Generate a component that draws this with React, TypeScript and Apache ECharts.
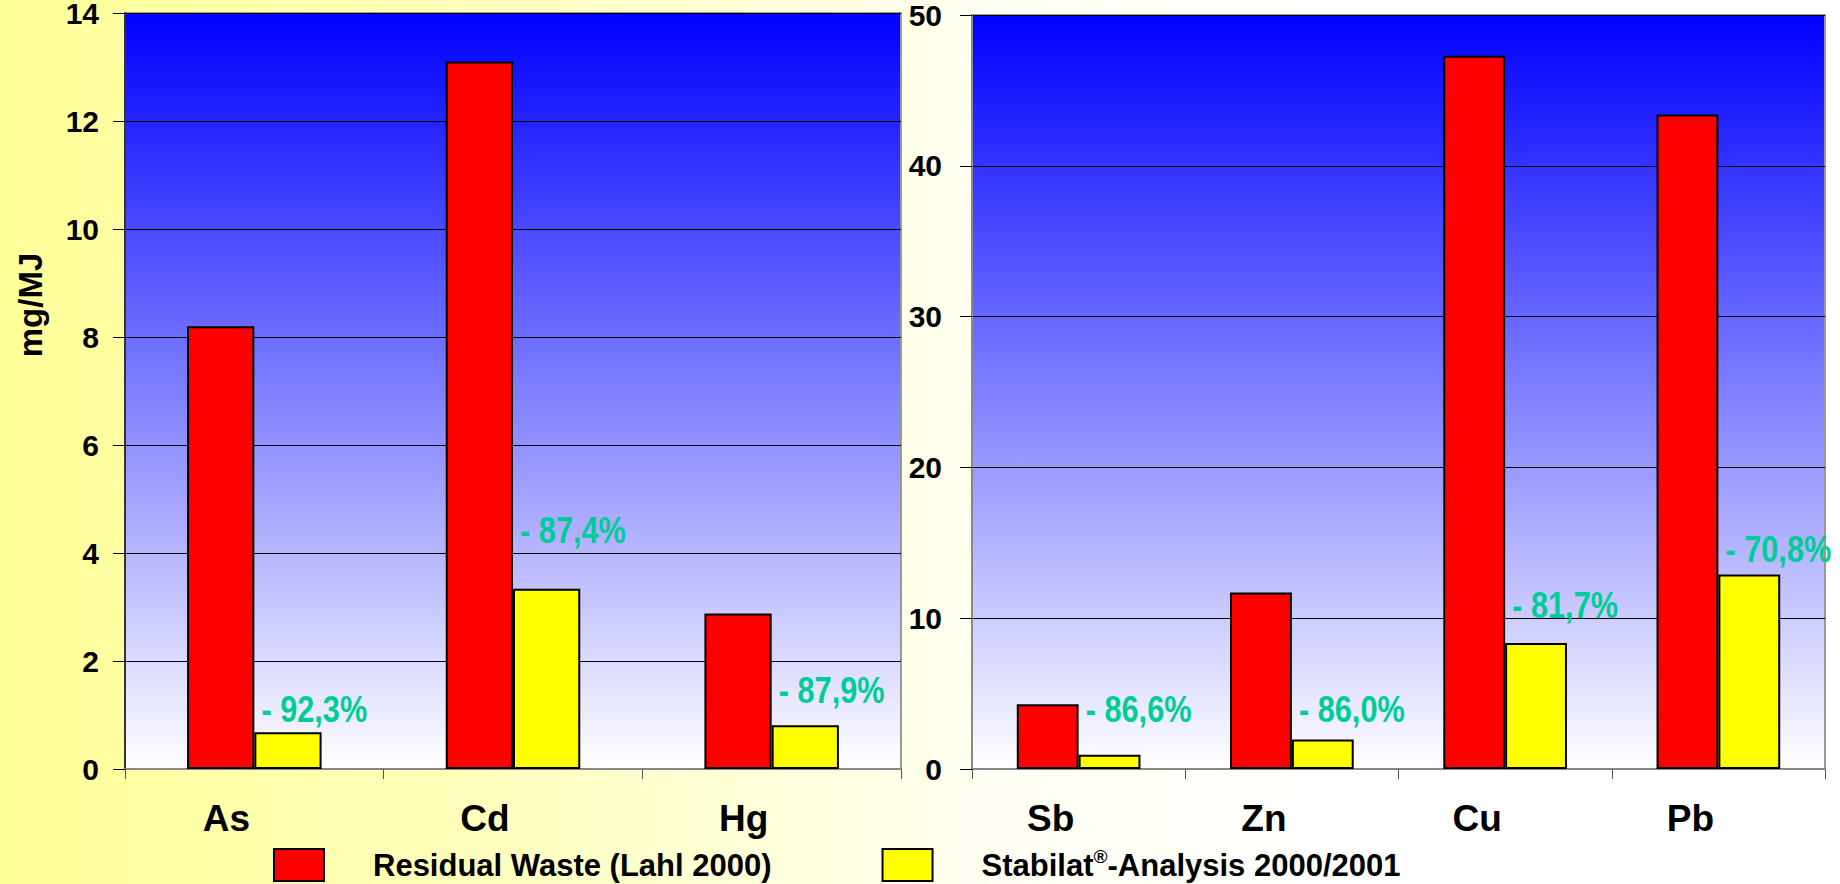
import React, { useEffect, useRef } from "react";
import * as echarts from "echarts";

const categoriesLeft = ["As", "Cd", "Hg"];
const residualLeft = [8.2, 13.1, 2.88];
const stabilatLeft = [0.68, 3.34, 0.81];
const reductionLeft = ["- 92,3%", "- 87,4%", "- 87,9%"];
const reductionLeftAt = [1.11, 4.43, 1.46];

const categoriesRight = ["Sb", "Zn", "Cu", "Pb"];
const residualRight = [4.3, 11.7, 47.3, 43.4];
const stabilatRight = [0.94, 1.95, 8.35, 12.9];
const reductionRight = ["- 86,6%", "- 86,0%", "- 81,7%", "- 70,8%"];
const reductionRightAt = [3.98, 3.98, 10.9, 14.6];

const leftAxis = { min: 0, max: 14, interval: 2 };
const rightAxis = { min: 0, max: 50, interval: 10 };

const seriesNames = ["Residual Waste (Lahl 2000)", "Stabilat®-Analysis 2000/2001"];
const axisTitle = "mg/MJ";

const FONT = "'Liberation Sans', Arial, sans-serif";

export default function App() {
  const ref = useRef<HTMLDivElement>(null);
  useEffect(() => {
    if (!ref.current) return;
    const chart = echarts.init(ref.current, null, { renderer: "svg" });
    const plotBg = new echarts.graphic.LinearGradient(0, 0, 0, 1, [
      { offset: 0, color: "#0000FF" },
      { offset: 1, color: "#FFFFFF" },
    ]);
    const pageBg = new echarts.graphic.LinearGradient(0, 0, 1, 0, [
      { offset: 0, color: "#FFFF99" },
      { offset: 0.25, color: "#FFFFBB" },
      { offset: 0.55, color: "#FFFFF4" },
      { offset: 0.75, color: "#FFFFFF" },
      { offset: 1, color: "#FFFFFF" },
    ]);
    const catAxis = (data: string[], idx: number) => ({
      type: "category",
      gridIndex: idx,
      data,
      axisLine: { show: true, lineStyle: { color: "#888888", width: 2 } },
      axisTick: { show: true, length: 10, lineStyle: { color: "#555555", width: 1 } },
      axisLabel: {
        margin: 31,
        fontSize: 37,
        fontWeight: "bold",
        fontFamily: FONT,
        color: "#000",
        padding: [0, 56, 0, 0],
        interval: 0,
      },
      splitLine: { show: false },
    });
    const valAxis = (cfg: any, idx: number, margin: number, lineColor: string) => ({
      type: "value",
      gridIndex: idx,
      min: cfg.min,
      max: cfg.max,
      interval: cfg.interval,
      axisLine: { show: true, lineStyle: { color: lineColor, width: 2 } },
      axisTick: { show: true, length: 12, lineStyle: { color: "#000", width: 1 } },
      axisLabel: {
        margin,
        fontSize: 30,
        lineHeight: 24,
        fontWeight: "bold",
        fontFamily: FONT,
        color: "#000",
      },
      splitLine: { show: true, lineStyle: { color: "#000", width: 1 } },
    });
    const barStyle = (color: string) => ({ color, borderColor: "#000", borderWidth: 2 });
    const labelSeries = (idx: number, at: number[], texts: string[]) => ({
      type: "custom",
      name: "reduction" + idx,
      xAxisIndex: idx,
      yAxisIndex: idx,
      silent: true,
      encode: { x: 0, y: 1 },
      data: at.map((v, i) => [i, v]),
      renderItem: (params: any, api: any) => {
        const p = api.coord([api.value(0), api.value(1)]);
        return {
          type: "text",
          x: p[0] + 60,
          y: p[1],
          scaleX: 0.83,
          style: {
            text: texts[params.dataIndex],
            fill: "#00CC99",
            font: "bold 37px 'Liberation Sans', Arial, sans-serif",
            align: "center",
            verticalAlign: "middle",
            textAlign: "center",
            textVerticalAlign: "middle",
          },
        };
      },
      z: 10,
    });
    chart.setOption({
      animation: false,
      backgroundColor: pageBg,
      grid: [
        {
          left: 125, top: 13, width: 776, height: 756,
          show: true, backgroundColor: plotBg, borderColor: "#999999", borderWidth: 2,
          containLabel: false, outerBoundsMode: "none",
        },
        {
          left: 972, top: 15, width: 853, height: 754,
          show: true, backgroundColor: plotBg, borderColor: "#999999", borderWidth: 2,
          containLabel: false, outerBoundsMode: "none",
        },
      ],
      xAxis: [catAxis(categoriesLeft, 0), catAxis(categoriesRight, 1)],
      yAxis: [
        {
          ...valAxis(leftAxis, 0, 26, "#333333"),
          name: axisTitle,
          nameLocation: "middle",
          nameRotate: 90,
          nameGap: 78,
          nameTextStyle: {
            fontSize: 33,
            fontWeight: "bold",
            fontFamily: FONT,
            color: "#000",
            padding: [0, 0, 0, 172],
          },
        },
        valAxis(rightAxis, 1, 30, "#888888"),
      ],
      legend: {
        data: seriesNames,
        left: 268,
        top: 842,
        itemWidth: 50,
        itemHeight: 32,
        itemGap: 110,
        icon: "rect",
        itemStyle: { borderColor: "#000", borderWidth: 2 },
        selectedMode: false,
        formatter: (name: string) =>
          name.indexOf("®") >= 0
            ? "{t|" + name.split("®")[0] + "}{sup|®}{t|" + name.split("®")[1] + "}"
            : "{t|" + name + "}",
        textStyle: {
          padding: [0, 0, 0, 44],
          rich: {
            t: { fontSize: 31, fontWeight: "bold", fontFamily: FONT, color: "#000", lineHeight: 36 },
            sup: { fontSize: 19, fontWeight: "bold", fontFamily: FONT, color: "#000", verticalAlign: "top", lineHeight: 36 },
          },
        },
      },
      series: [
        { type: "bar", name: seriesNames[0], xAxisIndex: 0, yAxisIndex: 0, data: residualLeft, barWidth: "26%", barGap: "0%", itemStyle: barStyle("#FF0000") },
        { type: "bar", name: seriesNames[1], xAxisIndex: 0, yAxisIndex: 0, data: stabilatLeft, barWidth: "26%", barGap: "0%", itemStyle: barStyle("#FFFF00") },
        { type: "bar", name: seriesNames[0], xAxisIndex: 1, yAxisIndex: 1, data: residualRight, barWidth: "29%", barGap: "0%", itemStyle: barStyle("#FF0000") },
        { type: "bar", name: seriesNames[1], xAxisIndex: 1, yAxisIndex: 1, data: stabilatRight, barWidth: "29%", barGap: "0%", itemStyle: barStyle("#FFFF00") },
        labelSeries(0, reductionLeftAt, reductionLeft),
        labelSeries(1, reductionRightAt, reductionRight),
      ],
    });
    return () => chart.dispose();
  }, []);
  return (
    <div
      ref={ref}
      style={{ position: "fixed", left: 0, top: 0, width: 1840, height: 884 }}
    />
  );
}
